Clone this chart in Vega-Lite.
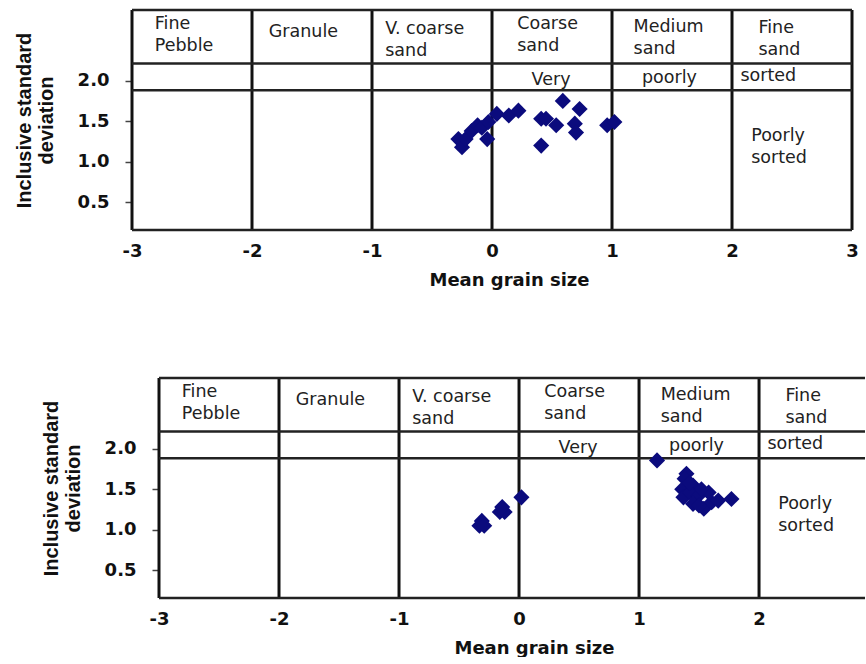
{
  "$schema": "https://vega.github.io/schema/vega-lite/v6.json",
  "padding": {"left": 14, "top": 8, "right": 0, "bottom": 0},
  "spacing": 87,
  "background": "white",
  "config": {
    "view": {"stroke": null},
    "axisX": {"domain": false, "ticks": false, "grid": false, "labelFlush": false, "labelOverlap": false,
      "labelExpr": "datum.value < 0 ? '-' + abs(datum.value) : '' + datum.value",
      "labelFont": "DejaVu Sans", "labelFontWeight": "bold", "labelFontSize": 18, "labelColor": "#111", "labelPadding": 12,
      "titleFont": "DejaVu Sans", "titleFontWeight": "bold", "titleFontSize": 18, "titleColor": "#111", "titlePadding": 11},
    "axisY": {"domain": false, "ticks": true, "tickSize": 7, "tickColor": "#444", "tickWidth": 1.5, "grid": false,
      "labelFont": "DejaVu Sans", "labelFontWeight": "bold", "labelFontSize": 18, "labelColor": "#111", "labelPadding": 16,
      "titleFont": "Liberation Sans", "titleFontWeight": "bold", "titleFontSize": 20, "titleColor": "#111", "titlePadding": 21, "titleLineHeight": 22}
  },
  "datasets": {
    "top": [
      {"x": -0.28, "y": 1.28}, {"x": -0.25, "y": 1.18}, {"x": -0.22, "y": 1.28}, {"x": -0.17, "y": 1.38},
      {"x": -0.12, "y": 1.45}, {"x": -0.085, "y": 1.42}, {"x": -0.04, "y": 1.28}, {"x": -0.03, "y": 1.49},
      {"x": 0.04, "y": 1.59}, {"x": 0.14, "y": 1.57}, {"x": 0.22, "y": 1.63}, {"x": 0.41, "y": 1.53},
      {"x": 0.45, "y": 1.53}, {"x": 0.41, "y": 1.2}, {"x": 0.535, "y": 1.45}, {"x": 0.59, "y": 1.75},
      {"x": 0.73, "y": 1.65}, {"x": 0.69, "y": 1.47}, {"x": 0.7, "y": 1.36}, {"x": 0.96, "y": 1.45},
      {"x": 1.02, "y": 1.49}
    ],
    "bottom": [
      {"x": 1.15, "y": 1.855}, {"x": 1.395, "y": 1.69}, {"x": 1.38, "y": 1.63}, {"x": 1.36, "y": 1.5},
      {"x": 1.37, "y": 1.4}, {"x": 1.45, "y": 1.545}, {"x": 1.425, "y": 1.46}, {"x": 1.495, "y": 1.42},
      {"x": 1.45, "y": 1.32}, {"x": 1.54, "y": 1.26}, {"x": 1.605, "y": 1.34}, {"x": 1.58, "y": 1.46},
      {"x": 1.66, "y": 1.36}, {"x": 1.77, "y": 1.38}, {"x": 1.5, "y": 1.3}, {"x": 1.52, "y": 1.5},
      {"x": 1.42, "y": 1.58},
      {"x": -0.31, "y": 1.11}, {"x": -0.33, "y": 1.05}, {"x": -0.29, "y": 1.05},
      {"x": -0.16, "y": 1.22}, {"x": -0.12, "y": 1.22}, {"x": -0.14, "y": 1.28},
      {"x": 0.02, "y": 1.4}
    ],
    "labels": [
      {"x": -2.81, "y": 2.63, "text": "Fine\nPebble"},
      {"x": -1.86, "y": 2.54, "text": "Granule"},
      {"x": -0.89, "y": 2.57, "text": "V. coarse\nsand"},
      {"x": 0.21, "y": 2.63, "text": "Coarse\nsand"},
      {"x": 1.18, "y": 2.6, "text": "Medium\nsand"},
      {"x": 2.22, "y": 2.59, "text": "Fine\nsand"},
      {"x": 0.33, "y": 1.94, "text": "Very"},
      {"x": 1.25, "y": 1.975, "text": "poorly"},
      {"x": 2.07, "y": 1.99, "text": "sorted"},
      {"x": 2.16, "y": 1.26, "text": "Poorly\nsorted"}
    ],
    "vlinesTop": [{"x": -3}, {"x": -2}, {"x": -1}, {"x": 0}, {"x": 1}, {"x": 2}, {"x": 3}],
    "vlinesBottom": [{"x": -3}, {"x": -2}, {"x": -1}, {"x": 0}, {"x": 1}, {"x": 2}],
    "hlinesTop": [{"y": 0.16, "x": -3, "x2": 3}, {"y": 1.88, "x": -3, "x2": 3}, {"y": 2.21, "x": -3, "x2": 3}, {"y": 2.87, "x": -3, "x2": 3}],
    "hlinesBottom": [{"y": 0.16, "x": -3, "x2": 2.883}, {"y": 1.88, "x": -3, "x2": 2.883}, {"y": 2.21, "x": -3, "x2": 2.883}, {"y": 2.87, "x": -3, "x2": 2.883}]
  },
  "vconcat": [
    {
      "width": 720,
      "height": 220,
      "layer": [
        {
          "data": {"name": "vlinesTop"},
          "mark": {"type": "rule", "color": "#111", "strokeWidth": 3},
          "encoding": {
            "x": {"field": "x", "type": "quantitative", "scale": {"domain": [-3, 3], "nice": false, "zero": false},
              "axis": {"title": "Mean grain size", "values": [-3, -2, -1, 0, 1, 2, 3], "titleX": 377}}
          }
        },
        {
          "data": {"name": "hlinesTop"},
          "mark": {"type": "rule", "color": "#222", "strokeWidth": 2.5},
          "encoding": {
            "x": {"field": "x", "type": "quantitative", "axis": {"title": "Mean grain size", "values": [-3, -2, -1, 0, 1, 2, 3], "titleX": 377}},
            "x2": {"field": "x2"},
            "y": {"field": "y", "type": "quantitative", "scale": {"domain": [0.16, 2.87], "nice": false, "zero": false},
              "axis": {"title": ["Inclusive standard", "deviation"], "values": [0.5, 1, 1.5, 2], "format": ".1f"}}
          }
        },
        {
          "data": {"name": "labels"},
          "mark": {"type": "text", "align": "left", "baseline": "alphabetic", "font": "DejaVu Sans", "fontSize": 17.5, "lineHeight": 22, "lineBreak": "\n", "color": "#222"},
          "encoding": {
            "x": {"field": "x", "type": "quantitative", "axis": {"title": "Mean grain size", "values": [-3, -2, -1, 0, 1, 2, 3], "titleX": 377}},
            "y": {"field": "y", "type": "quantitative", "axis": {"title": ["Inclusive standard", "deviation"], "values": [0.5, 1, 1.5, 2], "format": ".1f"}},
            "text": {"field": "text", "type": "nominal"}
          }
        },
        {
          "data": {"name": "top"},
          "mark": {"type": "point", "shape": "diamond", "filled": true, "size": 260, "color": "#0b0b7d", "opacity": 1},
          "encoding": {
            "x": {"field": "x", "type": "quantitative", "axis": {"title": "Mean grain size", "values": [-3, -2, -1, 0, 1, 2, 3], "titleX": 377}},
            "y": {"field": "y", "type": "quantitative", "axis": {"title": ["Inclusive standard", "deviation"], "values": [0.5, 1, 1.5, 2], "format": ".1f"}}
          }
        }
      ]
    },
    {
      "width": 733,
      "height": 220,
      "layer": [
        {
          "data": {"name": "vlinesBottom"},
          "mark": {"type": "rule", "color": "#111", "strokeWidth": 3},
          "encoding": {
            "x": {"field": "x", "type": "quantitative", "scale": {"domain": [-3.225, 2.883], "nice": false, "zero": false},
              "axis": {"title": "Mean grain size", "values": [-3, -2, -1, 0, 1, 2], "titleX": 402}}
          }
        },
        {
          "data": {"name": "hlinesBottom"},
          "mark": {"type": "rule", "color": "#222", "strokeWidth": 2.5},
          "encoding": {
            "x": {"field": "x", "type": "quantitative", "axis": {"title": "Mean grain size", "values": [-3, -2, -1, 0, 1, 2], "titleX": 402}},
            "x2": {"field": "x2"},
            "y": {"field": "y", "type": "quantitative", "scale": {"domain": [0.16, 2.87], "nice": false, "zero": false},
              "axis": {"title": ["Inclusive standard", "deviation"], "values": [0.5, 1, 1.5, 2], "format": ".1f", "offset": -27}}
          }
        },
        {
          "data": {"name": "labels"},
          "mark": {"type": "text", "align": "left", "baseline": "alphabetic", "font": "DejaVu Sans", "fontSize": 17.5, "lineHeight": 22, "lineBreak": "\n", "color": "#222"},
          "encoding": {
            "x": {"field": "x", "type": "quantitative", "axis": {"title": "Mean grain size", "values": [-3, -2, -1, 0, 1, 2], "titleX": 402}},
            "y": {"field": "y", "type": "quantitative", "axis": {"title": ["Inclusive standard", "deviation"], "values": [0.5, 1, 1.5, 2], "format": ".1f", "offset": -27}},
            "text": {"field": "text", "type": "nominal"}
          }
        },
        {
          "data": {"name": "bottom"},
          "mark": {"type": "point", "shape": "diamond", "filled": true, "size": 260, "color": "#0b0b7d", "opacity": 1},
          "encoding": {
            "x": {"field": "x", "type": "quantitative", "axis": {"title": "Mean grain size", "values": [-3, -2, -1, 0, 1, 2], "titleX": 402}},
            "y": {"field": "y", "type": "quantitative", "axis": {"title": ["Inclusive standard", "deviation"], "values": [0.5, 1, 1.5, 2], "format": ".1f", "offset": -27}}
          }
        }
      ]
    }
  ]
}
